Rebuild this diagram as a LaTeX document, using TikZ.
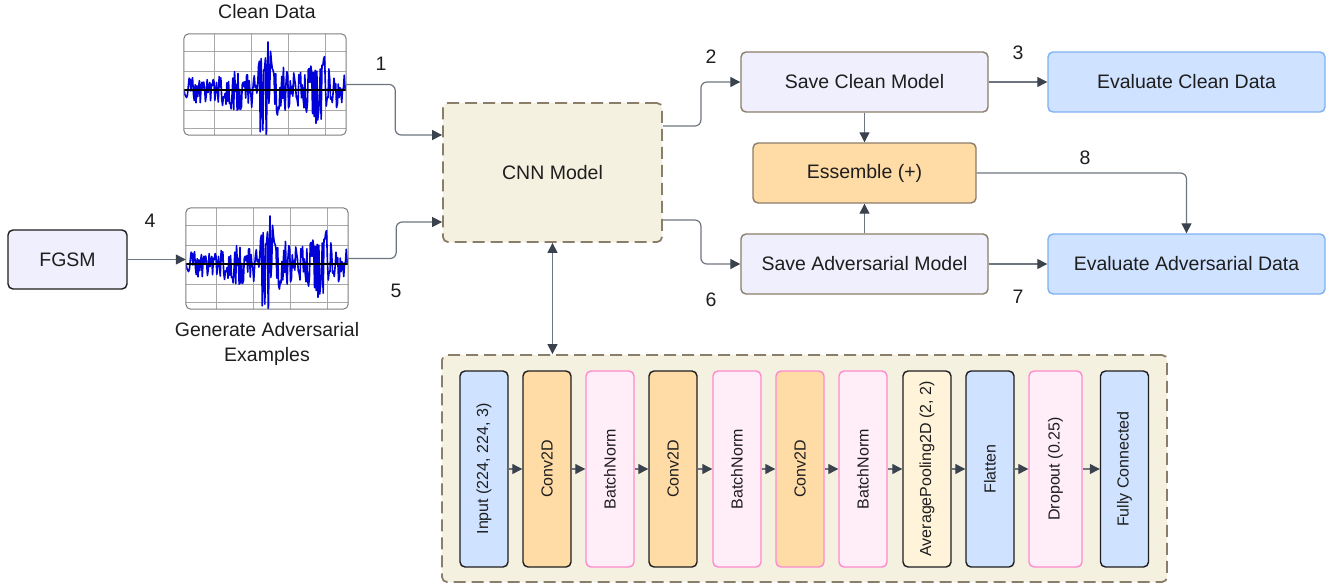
\documentclass[tikz,border=0pt]{standalone}
\usepackage{fontspec}
\setmainfont{Liberation Sans}
\usetikzlibrary{arrows.meta}
\definecolor{blueF}{HTML}{CFE2FF}
\definecolor{blueB}{HTML}{7EB2F2}
\definecolor{orangeF}{HTML}{FFDBA6}
\definecolor{pinkF}{HTML}{FFEEF8}
\definecolor{pinkB}{HTML}{FF8AD0}
\definecolor{creamF}{HTML}{FFF4DA}
\definecolor{lavF}{HTML}{EFEFFD}
\definecolor{brownB}{HTML}{8A7D69}
\definecolor{cnnF}{HTML}{F5F1E1}
\definecolor{lineC}{HTML}{6F7580}
\definecolor{tipC}{HTML}{3A424E}
\definecolor{txtC}{HTML}{1E1E1E}
\definecolor{sigB}{HTML}{0000D8}
\definecolor{gridC}{HTML}{A8A8A8}
\newcommand\drawsignal[1]{%
  \begin{scope}
    \clip[rounded corners=5pt] (#1.south west) rectangle (#1.north east);
    \begin{scope}[shift={(#1.center)}]
      \foreach \gx in {-51,-14,23,60} \draw[gridC, line width=0.8pt] (\gx,-51) -- (\gx,51);
      \foreach \gy in {-33.5,-13.5,25.5,44} \draw[gridC, line width=0.8pt] (-81,\gy) -- (81,\gy);
      \pgfmathsetseed{11}
      \draw[sigB, line width=1.6pt, line join=round] plot[domain=-81:81, samples=190]
        (\x, {5.5 - (15 + 40*exp(-((\x-0)/6)^2) + 10*exp(-((\x-10)/18)^2) + 28*exp(-((\x-55)/12)^2) + 6*exp(-((\x+30)/12)^2))*rand});
      \draw[black, line width=1.2pt] (-81,5.5) -- (81,5.5);
    \end{scope}
  \end{scope}
  \draw[gridC!75!black, line width=1pt, rounded corners=5pt] (#1.south west) rectangle (#1.north east);
}
\begin{document}
\begin{tikzpicture}[x=1pt,y=-1pt,
  font=\fontsize{19.5}{24}\selectfont, text=txtC,
  smalltxt/.style={font=\fontsize{16}{19}\selectfont},
  conn/.style={draw=lineC, line width=1.2pt, rounded corners=6pt, -{Triangle[length=10pt,width=10pt,color=tipC]}},
  biconn/.style={draw=lineC, line width=1.2pt, {Triangle[length=10pt,width=10pt,color=tipC]}-{Triangle[length=10pt,width=10pt,color=tipC]}},
  flowbox/.style={draw, rounded corners=5pt, line width=1.4pt, inner sep=0pt, align=center},
  layerbox/.style={flowbox, smalltxt, minimum height=196pt, minimum width=48pt},
  sigbox/.style={inner sep=0pt, minimum width=162pt, minimum height=101pt, fill=white},
  numlbl/.style={inner sep=0pt}
]
\useasboundingbox (0,0) rectangle (1333,584);

% signal images
\node[sigbox] (sigA) at (265,84.5) {};
\drawsignal{sigA}
\node[sigbox] (sigB) at (267,258.5) {};
\drawsignal{sigB}
\node (lblA) at (267,12) {Clean Data};
\node[align=center] (lblB) at (267,344) {Generate Adversarial\\[1pt]Examples};

% FGSM
\node[flowbox, draw=txtC, fill=lavF, minimum width=119pt, minimum height=59pt] (fgsm) at (67.5,259.5) {FGSM};

% CNN model
\node[flowbox, draw=brownB, fill=cnnF, dash pattern=on 12pt off 6pt, line width=1.8pt, minimum width=219pt, minimum height=139pt] (cnn) at (552.5,172.5) {CNN Model};

% right side boxes
\node[flowbox, draw=brownB, fill=lavF, minimum width=247pt, minimum height=60pt] (saveC) at (864.5,82) {Save Clean Model};
\node[flowbox, draw=brownB, fill=lavF, minimum width=247pt, minimum height=60pt] (saveA) at (864.5,264) {Save Adversarial Model};
\node[flowbox, draw=brownB, fill=orangeF, minimum width=223pt, minimum height=60pt] (ess) at (864.5,173) {Essemble (+)};
\node[flowbox, draw=blueB, fill=blueF, minimum width=277pt, minimum height=60pt] (evalC) at (1186.5,82) {Evaluate Clean Data};
\node[flowbox, draw=blueB, fill=blueF, minimum width=277pt, minimum height=60pt] (evalA) at (1186.5,264) {Evaluate Adversarial Data};

% container of layers
\node[flowbox, draw=brownB, fill=cnnF, dash pattern=on 12pt off 6pt, line width=1.8pt, minimum width=725pt, minimum height=227pt] (cont) at (804.5,468.5) {};

\node[layerbox, draw=txtC, fill=blueF] (l1) at (484,469) {\rotatebox{90}{Input (224, 224, 3)}};
\node[layerbox, draw=txtC, fill=orangeF] (l2) at (547,469) {\rotatebox{90}{Conv2D}};
\node[layerbox, draw=pinkB, fill=pinkF] (l3) at (610,469) {\rotatebox{90}{BatchNorm}};
\node[layerbox, draw=txtC, fill=orangeF] (l4) at (673,469) {\rotatebox{90}{Conv2D}};
\node[layerbox, draw=pinkB, fill=pinkF] (l5) at (737,469) {\rotatebox{90}{BatchNorm}};
\node[layerbox, draw=pinkB, fill=orangeF] (l6) at (800,469) {\rotatebox{90}{Conv2D}};
\node[layerbox, draw=pinkB, fill=pinkF] (l7) at (863,469) {\rotatebox{90}{BatchNorm}};
\node[layerbox, draw=txtC, fill=creamF] (l8) at (927,469) {\rotatebox{90}{AveragePooling2D (2, 2)}};
\node[layerbox, draw=txtC, fill=blueF] (l9) at (990,469) {\rotatebox{90}{Flatten}};
\node[layerbox, draw=pinkB, fill=pinkF, minimum width=53pt] (l10) at (1055.5,469) {\rotatebox{90}{Dropout (0.25)}};
\node[layerbox, draw=txtC, fill=blueF] (l11) at (1124.5,469) {\rotatebox{90}{Fully Connected}};

\foreach \a/\b in {l1/l2,l2/l3,l3/l4,l4/l5,l5/l6,l6/l7,l7/l8,l8/l9,l9/l10,l10/l11}
  \draw[conn] (\a.east) -- (\b.west);

% connectors
\draw[conn] (sigA.east) -- ++(49,0) |- ([yshift=37.5pt]cnn.west);
\draw[conn] (fgsm.east) -- (fgsm.east -| sigB.west);
\draw[conn] (sigB.east) -- ++(48,0) |- ([yshift=-49.5pt]cnn.west);
\draw[conn] ([yshift=46.5pt]cnn.east) -- ++(38,0) |- (saveC.west);
\draw[conn] ([yshift=-47.5pt]cnn.east) -- ++(38,0) |- (saveA.west);
\draw[conn] (saveC.east) -- (evalC.west);
\draw[conn] (saveA.east) -- (evalA.west);
\draw[conn] (saveC.south) -- (ess.north);
\draw[conn] (saveA.north) -- (ess.south);
\draw[conn] (ess.east) -| (evalA.north);
\draw[biconn] (cnn.south) -- (cnn.south |- cont.north);

% step numbers
\node[numlbl] (n1) at (381,64) {1};
\node[numlbl] (n2) at (711,57) {2};
\node[numlbl] (n3) at (1018,53) {3};
\node[numlbl] (n4) at (150,221) {4};
\node[numlbl] (n5) at (396,291) {5};
\node[numlbl] (n6) at (711,300) {6};
\node[numlbl] (n7) at (1018,297) {7};
\node[numlbl] (n8) at (1085,158) {8};
\end{tikzpicture}
\end{document}
